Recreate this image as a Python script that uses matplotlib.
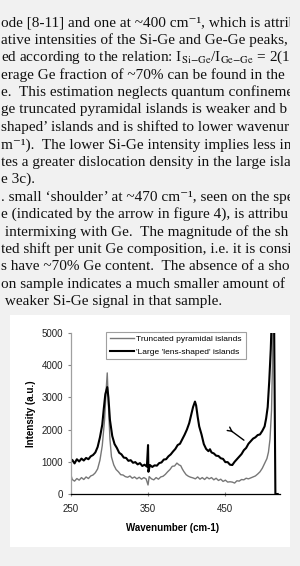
import matplotlib
matplotlib.use("Agg")
import matplotlib.pyplot as plt
from matplotlib.patches import Rectangle

# page text above the figure (cropped at both sides)
para1 = [
    "ode [8-11] and one at ~400 cm\u207b\u00b9, which is attrib",
    "ative intensities of the Si-Ge and Ge-Ge peaks,",
    r"ed according to the relation: I$_{\mathrm{Si{-}Ge}}$/I$_{\mathrm{Ge{-}Ge}}$ = 2(1-",
    "erage Ge fraction of ~70% can be found in the",
    "e.  This estimation neglects quantum confineme",
    "ge truncated pyramidal islands is weaker and b",
    "shaped\u2019 islands and is shifted to lower wavenur",
    "m\u207b\u00b9).  The lower Si-Ge intensity implies less in",
    "tes a greater dislocation density in the large isla",
    "e 3c).",
]
para2 = [
    ". small \u2018shoulder\u2019 at ~470 cm\u207b\u00b9, seen on the spe",
    "e (indicated by the arrow in figure 4), is attribu",
    " intermixing with Ge.  The magnitude of the sh",
    "ted shift per unit Ge composition, i.e. it is consi",
    "s have ~70% Ge content.  The absence of a sho",
    "on sample indicates a much smaller amount of",
    " weaker Si-Ge signal in that sample.",
]

# Raman spectra
x_trunc = [250, 252, 255, 258, 261, 264, 267, 270, 273, 276, 279, 282, 285, 288,
           291, 294, 296, 297.5, 299, 301, 303, 306, 309, 312, 315, 318, 321, 324,
           327, 330, 333, 336, 339, 342, 345, 348, 350.5, 352, 355, 358, 361, 364,
           367, 370, 373, 376, 379, 382, 385, 388, 391, 393, 395, 397, 400, 403,
           406, 409, 412, 415, 418, 421, 424, 427, 430, 433, 436, 439, 442, 445,
           448, 451, 454, 457, 460, 463, 466, 469, 472, 475, 478, 481, 484, 487,
           490, 493, 496, 499, 502, 505, 507, 509, 511, 512, 513]
y_trunc = [620, 450, 400, 480, 430, 510, 450, 530, 480, 560, 590, 660, 780, 1050,
           1500, 2300, 3200, 3760, 2800, 1700, 1150, 900, 760, 690, 600, 590, 540, 520,
           560, 490, 530, 470, 520, 460, 510, 470, 280, 540, 470, 440, 510, 460,
           530, 550, 610, 690, 760, 860, 870, 960, 900, 880, 780, 700, 600, 550,
           520, 500, 470, 530, 460, 510, 450, 520, 470, 510, 440, 490, 420, 460,
           390, 430, 370, 380, 370, 340, 410, 400, 450, 440, 490, 470, 500, 530,
           560, 620, 690, 800, 950, 1100, 1300, 1700, 2600, 3800, 5600]

x_lens = [250, 252, 255, 258, 261, 264, 267, 270, 273, 276, 279, 282, 285, 288,
          291, 293, 295, 297.5, 299, 301, 304, 307, 310, 313, 316, 319, 322, 325,
          328, 331, 334, 337, 340, 343, 346, 349, 350.5, 351, 353, 356, 359, 362,
          365, 368, 371, 374, 377, 380, 383, 386, 389, 392, 395, 398, 401, 404,
          407, 409, 411.5, 413, 415, 417, 420, 423, 426, 429, 431, 433, 436, 439,
          442, 445, 448, 451, 454, 457, 460, 463, 466, 469, 472, 475, 478, 481,
          484, 487, 490, 493, 496, 499, 502, 504, 506, 508, 510, 512, 514, 516, 519]
y_lens = [980, 1060, 950, 1080, 1010, 1100, 1040, 1120, 1080, 1170, 1210, 1290, 1460, 1760,
          2150, 2650, 3100, 3320, 3000, 2300, 1800, 1550, 1430, 1280, 1230, 1130, 1120, 1030,
          1050, 970, 990, 920, 960, 870, 910, 850, 1520, 690, 900, 840, 890, 880,
          960, 980, 1070, 1080, 1170, 1230, 1320, 1400, 1520, 1560, 1700, 1840, 2000, 2200,
          2500, 2700, 2870, 2750, 2400, 2100, 1850, 1550, 1400, 1330, 1390, 1290, 1260, 1190,
          1180, 1110, 1090, 990, 990, 910, 900, 1000, 1080, 1160, 1240, 1360, 1430, 1560,
          1640, 1720, 1760, 1830, 1850, 1960, 2100, 2350, 2700, 3500, 4500, 6000, 6500, 0, 0]

x_ticks = [250, 350, 450]
y_ticks = [0, 1000, 2000, 3000, 4000, 5000]
labels = ["Truncated pyramidal islands", "'Large 'lens-shaped' islands"]
arrow_tail = (457, 1990)
arrow_tip = (478, 1620)

W, H = 300, 566
fig = plt.figure(figsize=(W / 100, H / 100), dpi=100)
fig.patch.set_facecolor("#f1f1f1")

serif = ["Liberation Serif", "DejaVu Serif"]
plt.rcParams["mathtext.fontset"] = "stix"
y0, pitch = 23, 17.4
for i, s in enumerate(para1 + para2):
    fig.text(1 / W, 1 - (y0 + i * pitch) / H, s, family=serif, fontsize=11,
             va="center", ha="left", color="#111111")
# page edge at the right
fig.patches.append(Rectangle((290 / W, 0), 10 / W, 1, transform=fig.transFigure,
                             facecolor="#f1f1f1", edgecolor="none", zorder=5))
# white figure box
fig.patches.append(Rectangle((10 / W, (H - 547) / H), 280 / W, 232 / H,
                             transform=fig.transFigure, facecolor="white",
                             edgecolor="none", zorder=6))

ax = fig.add_axes([70.7 / W, 72 / H, 209.3 / W, 161 / H], zorder=7)
ax.set_facecolor("none")
ax.plot(x_trunc, y_trunc, color="#777777", lw=1.0, label=labels[0])
ax.plot(x_lens, y_lens, color="black", lw=1.5, label=labels[1])
ax.set_xlim(250, 522)
ax.set_ylim(0, 5000)
ax.set_xticks(x_ticks)
ax.set_yticks(y_ticks)
for sp in ("top", "right"):
    ax.spines[sp].set_visible(False)
ax.spines["left"].set_color("#a0a0a0")
ax.spines["bottom"].set_color("black")
ax.spines["left"].set_linewidth(0.9)
ax.spines["bottom"].set_linewidth(0.9)
ax.tick_params(axis="y", direction="out", length=2.5, width=0.8, color="#888888",
               labelsize=7, pad=3, labelcolor="#222222")
ax.tick_params(axis="x", direction="inout", length=3, width=0.8, color="#888888",
               labelsize=7, pad=6, labelcolor="#222222")
for t in ax.get_xticklabels() + ax.get_yticklabels():
    t.set_family("Liberation Sans")
ax.set_ylabel("Intensity (a.u.)", fontsize=7, fontweight="bold", family="Liberation Sans")
ax.set_xlabel("Wavenumber (cm-1)", fontsize=7, fontweight="bold", family="Liberation Sans")
ax.yaxis.set_label_coords(-0.165, 0.5)
ax.xaxis.set_label_coords(0.489, -0.18)

ax.annotate("", xy=arrow_tip, xytext=arrow_tail,
            arrowprops=dict(arrowstyle="-", color="black", lw=1.0))
ax.annotate("", xy=(arrow_tail[0] + 4, arrow_tail[1] - 70), xytext=arrow_tail,
            arrowprops=dict(arrowstyle="->,head_length=0.3,head_width=0.15",
                            color="black", lw=1.0))

leg = ax.legend(loc="upper left", bbox_to_anchor=(0.169, 0.832, 0.669, 0.176),
                mode="expand", borderaxespad=0, fancybox=False, frameon=True,
                prop={"family": "Liberation Sans", "size": 6.0},
                handlelength=2.95, handletextpad=0.15, borderpad=0.45,
                labelspacing=0.55)
leg.get_frame().set_edgecolor("#888888")
leg.get_frame().set_linewidth(0.8)

fig.savefig("out.png", dpi=100, facecolor=fig.get_facecolor())
